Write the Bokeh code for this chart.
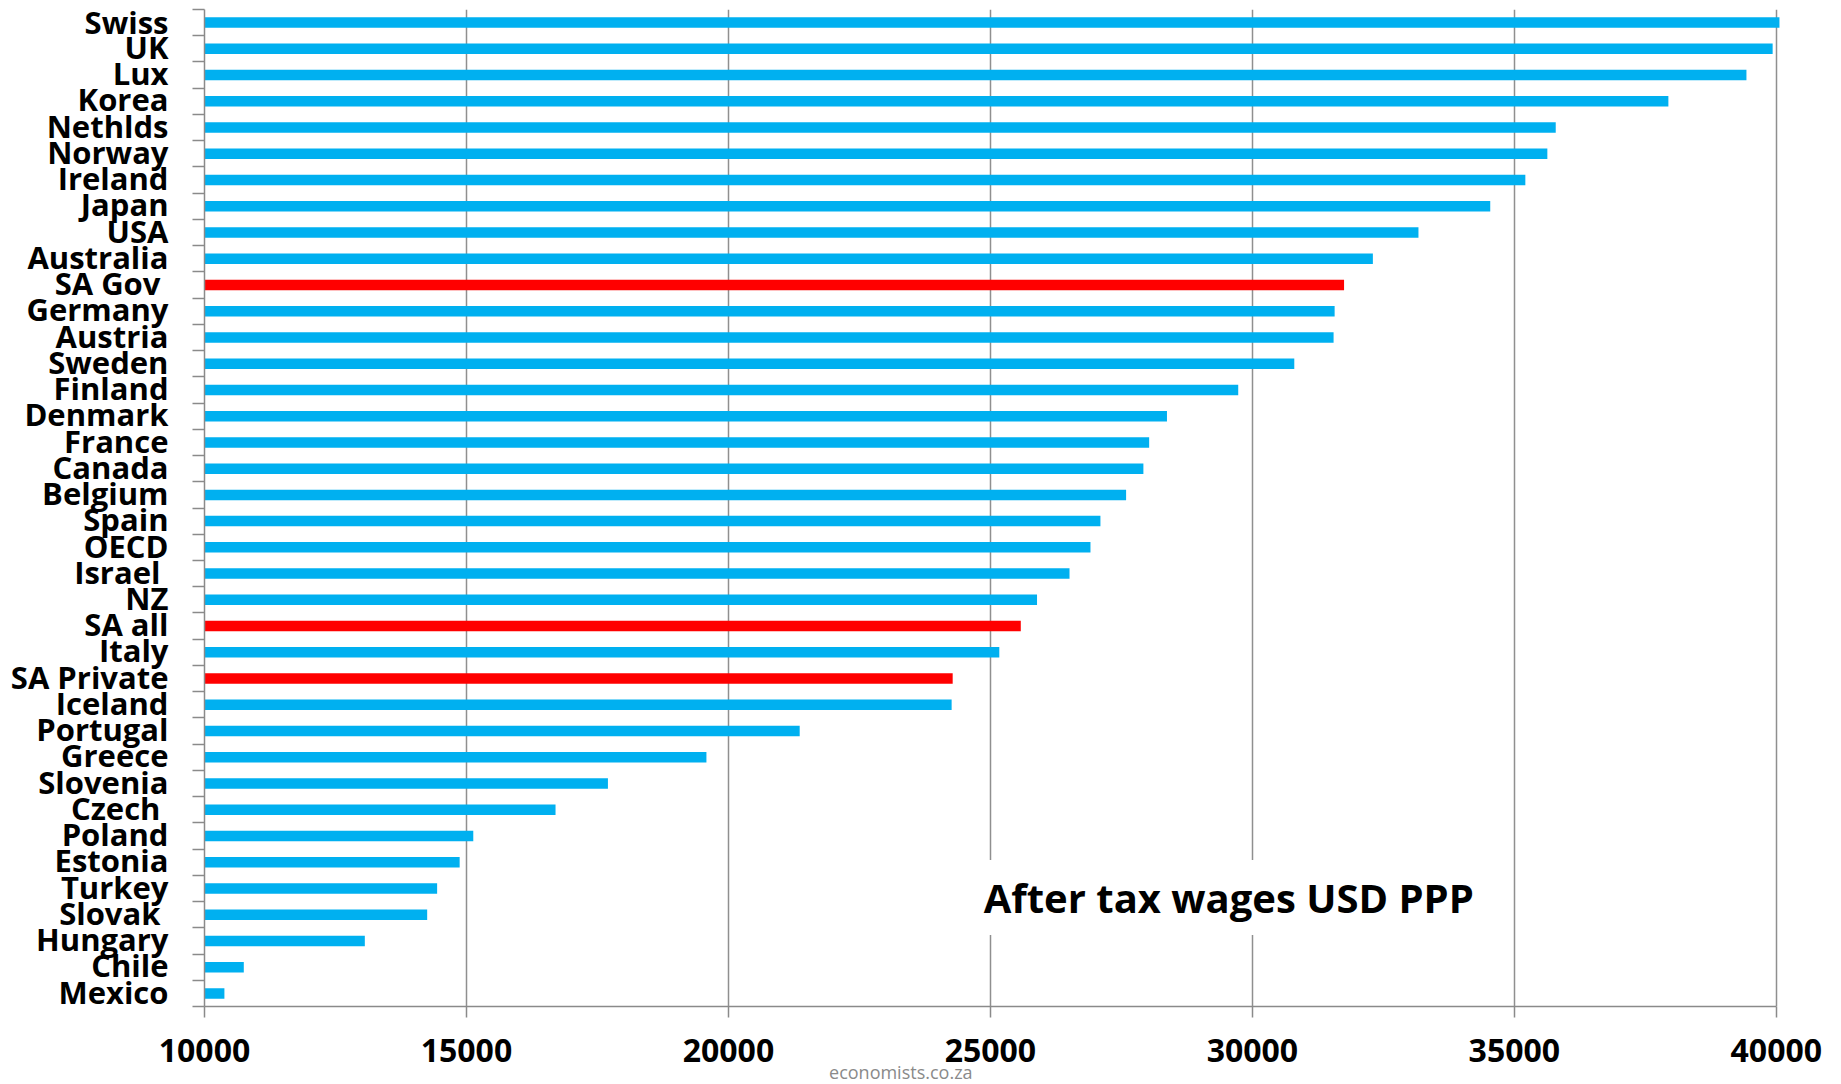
from bokeh.plotting import figure
from bokeh.models import FixedTicker, Range1d, Label, NumeralTickFormatter, LinearAxis
from bokeh.embed import file_html
from bokeh.resources import INLINE

# data (top to bottom as in the chart)
countries = ["Swiss", "UK", "Lux", "Korea", "Nethlds", "Norway", "Ireland", "Japan", "USA",
             "Australia", "SA Gov ", "Germany", "Austria", "Sweden", "Finland", "Denmark",
             "France", "Canada", "Belgium", "Spain", "OECD", "Israel ", "NZ", "SA all", "Italy",
             "SA Private", "Iceland", "Portugal", "Greece", "Slovenia", "Czech ", "Poland",
             "Estonia", "Turkey", "Slovak ", "Hungary", "Chile", "Mexico"]
wages = [40060, 39930, 39430, 37940, 35790, 35630, 35210, 34540, 33170,
         32300, 31750, 31570, 31550, 30800, 29730, 28370,
         28030, 27920, 27590, 27100, 26910, 26510, 25890, 25580, 25170,
         24280, 24260, 21360, 19580, 17700, 16700, 15130,
         14870, 14440, 14250, 13060, 10750, 10380]
highlight = ["SA Gov ", "SA all", "SA Private"]
x_ticks = [10000, 15000, 20000, 25000, 30000, 35000, 40000]
title_text = "After tax wages USD PPP"
source_text = "economists.co.za"
source_pos = 23290

n = len(countries)
centers = [n - i - 0.5 for i in range(n)]
label_pos = [c + 0.07 for c in centers]
boundaries = list(range(n + 1))
colors = ["#FF0000" if c in highlight else "#00B0F0" for c in countries]

p = figure(frame_width=1576, frame_height=997, output_backend="svg", toolbar_location=None,
           x_range=Range1d(10000, 40080), y_range=Range1d(0, n),
           min_border_left=204, min_border_top=9, min_border_right=50, min_border_bottom=0)
p.outline_line_color = None
p.background_fill_color = "white"

p.hbar(y=centers, right=wages, left=10000, height=0.4, fill_color=colors,
       line_color=None)

# x axis
xa = p.xaxis[0]
xa.ticker = FixedTicker(ticks=x_ticks)
xa.formatter = NumeralTickFormatter(format="0")
xa.bounds = (10000, 40000)
xa.axis_line_color = "#8a8a8a"
xa.axis_line_width = 1.5
xa.major_tick_line_color = "#8a8a8a"
xa.major_tick_line_width = 1.5
xa.major_tick_out = 11
xa.major_tick_in = 0
xa.minor_tick_line_color = None
xa.major_label_standoff = 21
xa.major_label_text_font = "Open Sans"
xa.major_label_text_font_style = "bold"
xa.major_label_text_font_size = "32px"
xa.major_label_text_color = "black"

# source line as a second, tick-less axis under the first
src_axis = LinearAxis(ticker=FixedTicker(ticks=[source_pos], minor_ticks=[]),
                      major_label_overrides={source_pos: source_text})
src_axis.axis_line_color = None
src_axis.major_tick_line_color = None
src_axis.minor_tick_line_color = None
src_axis.major_tick_out = 0
src_axis.major_tick_in = 0
src_axis.major_label_standoff = -5
src_axis.major_label_text_font = "Open Sans"
src_axis.major_label_text_font_size = "18px"
src_axis.major_label_text_color = "#8a8a8a"
p.add_layout(src_axis, "below")

# y axis: labels at centres, ticks at category boundaries
ya = p.yaxis[0]
ya.ticker = FixedTicker(ticks=label_pos, minor_ticks=boundaries)
ya.major_label_overrides = {c: name for c, name in zip(label_pos, countries)}
ya.axis_line_color = "#8a8a8a"
ya.axis_line_width = 1.5
ya.major_tick_line_color = None
ya.major_tick_out = 12
ya.major_tick_in = 0
ya.minor_tick_line_color = "#8a8a8a"
ya.minor_tick_line_width = 1.5
ya.minor_tick_out = 12
ya.minor_tick_in = 0
ya.major_label_standoff = 24
ya.major_label_text_font = "Open Sans"
ya.major_label_text_font_style = "bold"
ya.major_label_text_font_size = "31px"
ya.major_label_text_color = "black"

p.xgrid.ticker = FixedTicker(ticks=x_ticks)
p.xgrid.grid_line_color = "#8f8f8f"
p.xgrid.grid_line_width = 1.5
p.ygrid.grid_line_color = None

title = Label(x=24680, y=4.15, text=title_text, text_font="Open Sans",
              text_font_style="bold", text_font_size="40px", text_color="black",
              text_align="left", text_baseline="middle",
              background_fill_color="white", padding=10)
p.add_layout(title)

open("out.html", "w").write(file_html(p, INLINE))
